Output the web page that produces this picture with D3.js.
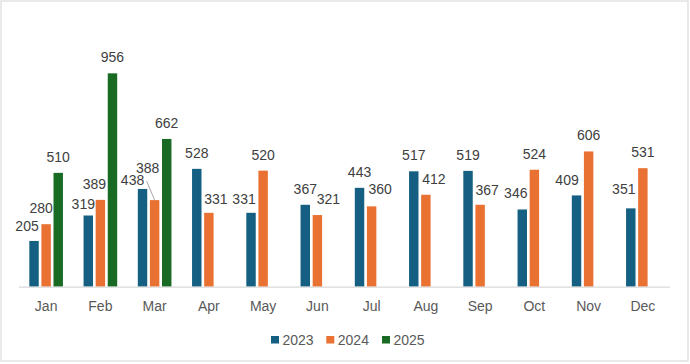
<!DOCTYPE html>
<html>
<head>
<meta charset="utf-8">
<script src="https://cdn.jsdelivr.net/npm/d3@7"></script>
<style>
  html, body { margin: 0; padding: 0; background: #fff; }
  svg { display: block; }
  text { font-family: "Liberation Sans", Arial, sans-serif; }
</style>
</head>
<body>
<svg id="chart" width="690" height="364"></svg>
<script>
// ---- data ----
const months = ["Jan","Feb","Mar","Apr","May","Jun","Jul","Aug","Sep","Oct","Nov","Dec"];
const seriesNames = ["2023","2024","2025"];
const values2023 = [205,319,438,528,331,367,443,517,519,346,409,351];
const values2024 = [280,389,388,331,520,321,360,412,367,524,606,531];
const values2025 = [510,956,662,null,null,null,null,null,null,null,null,null];

// ---- styling / label nudges (Excel-like label placement) ----
const colors = {"2023":"#156082","2024":"#E97132","2025":"#196B24"};
const labelNudge = {
  "2023-Jan":[-7,1.5], "2024-Jan":[-5,0],
  "2023-Feb":[-5,5],   "2024-Feb":[-6,0],
  "2023-Mar":[-10,7],  "2024-Mar":[-7,-16],
  "2024-Apr":[7,2],    "2023-May":[-7,2],
  "2024-Jun":[11,0],   "2024-Jul":[8.5,-1],
  "2024-Aug":[8,0],    "2024-Sep":[7,1],
  "2023-Oct":[-6.5,0], "2023-Nov":[-9.5,1],
  "2023-Dec":[-7,-3]
};
const leaderLines = ["2024-Mar"];

const seriesValues = {"2023":values2023,"2024":values2024,"2025":values2025};

const svg = d3.select("#chart");

// outer border
svg.append("rect").attr("x",1).attr("y",1).attr("width",687).attr("height",360)
  .attr("fill","#fff").attr("stroke","#e2e2e2").attr("stroke-width",1.5);

const x0 = d3.scaleBand().domain(months).range([19,670]).paddingInner(0.38).paddingOuter(0.19);
const x1 = d3.scaleBand().domain(seriesNames).range([0,x0.bandwidth()]).paddingInner(0.22).paddingOuter(0);
const y = d3.scaleLinear().domain([0,1000]).range([286.7,63.5]);

const data = [];
months.forEach((m,i)=>{
  seriesNames.forEach(s=>{
    const v = seriesValues[s][i];
    if (v!=null) data.push({month:m, series:s, value:v});
  });
});

// bars
svg.append("g").selectAll("rect").data(data).join("rect")
  .attr("x",d=>x0(d.month)+x1(d.series))
  .attr("y",d=>y(d.value))
  .attr("width",x1.bandwidth())
  .attr("height",d=>y(0)-y(d.value))
  .attr("fill",d=>colors[d.series]);

// x axis
const xAxis = d3.axisBottom(x0).tickSize(0).tickPadding(0);
const gx = svg.append("g").attr("transform",`translate(0,${y(0)})`).call(xAxis);
gx.select(".domain").attr("stroke","#d9d9d9").attr("stroke-width",1.2)
  .attr("d",`M19,0.5H670`);
gx.selectAll(".tick text").attr("fill","#595959").attr("font-size",14)
  .attr("dy",null).attr("y",24.5).attr("font-family",'"Liberation Sans", Arial, sans-serif');

// data labels
const lbl = svg.append("g");
data.forEach(d=>{
  const key = d.series+"-"+d.month;
  const n = labelNudge[key] || [0,0];
  const cx = x0(d.month)+x1(d.series)+x1.bandwidth()/2;
  const top = y(d.value);
  const lx = cx + n[0];
  const ly = top - 11 + n[1];
  lbl.append("text").attr("x",lx).attr("y",ly).attr("text-anchor","middle")
    .attr("font-size",14).attr("fill","#404040").text(d.value);
  if (leaderLines.includes(key)) {
    lbl.append("line").attr("x1",lx-1).attr("y1",ly+8).attr("x2",cx).attr("y2",top)
      .attr("stroke","#a6a6a6").attr("stroke-width",1);
  }
});

// legend
const legendX = [271, 326.3, 382];
const lg = svg.append("g");
seriesNames.forEach((s,i)=>{
  lg.append("rect").attr("x",legendX[i]).attr("y",336).attr("width",8).attr("height",7.5)
    .attr("fill",colors[s]);
  lg.append("text").attr("x",legendX[i]+11.5).attr("y",344.7).attr("font-size",14)
    .attr("fill","#595959").text(s);
});
</script>
</body>
</html>
